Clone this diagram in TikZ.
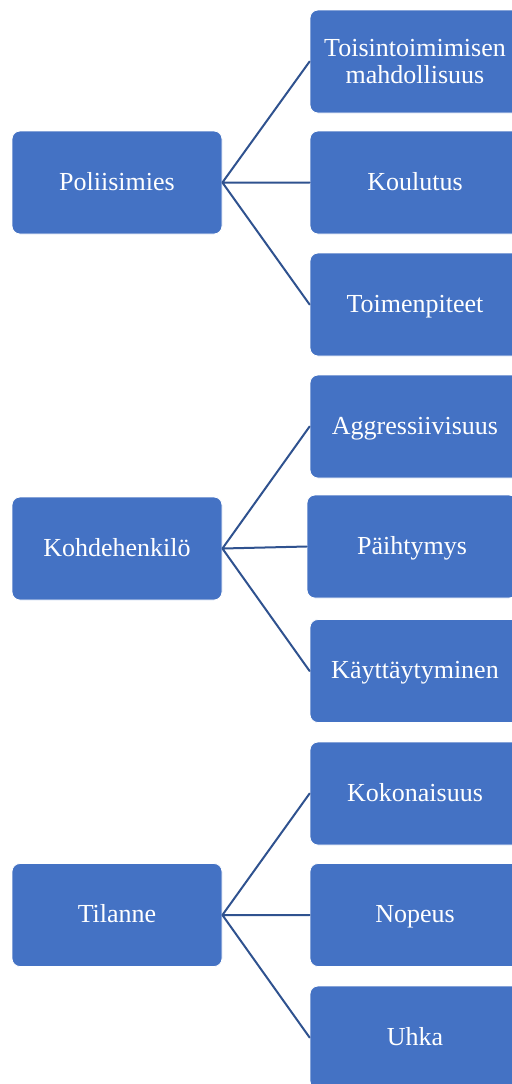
\documentclass[tikz,border=0pt]{standalone}
\usepackage{fontspec}
\setmainfont{Liberation Serif}
\definecolor{boxblue}{HTML}{4472C4}
\definecolor{linkblue}{HTML}{2F528F}
\begin{document}
\begin{tikzpicture}[x=0.5pt,y=-0.5pt,line join=round,line cap=round,
	box/.style={rectangle,rounded corners=4pt,fill=boxblue,draw=white,line width=0.4pt,
		minimum width=105pt,minimum height=51.5pt,inner sep=0pt,align=center,
		text=white,font=\fontsize{13}{13.5}\selectfont},
	onerow/.style={box,text height=0.891em,text depth=0.13em},
	link/.style={draw=linkblue,line width=1pt}]
\useasboundingbox (0,0) rectangle (511,1084);
% vasen sarake
\node[onerow] (poliisi) at (117,182.5) {Poliisimies};
\node[onerow] (kohde) at (117,548.5) {Kohdehenkilö};
\node[onerow] (tilanne) at (117,915) {Tilanne};
% oikea sarake
\node[box] (toisin) at (415,61.5) {Toisintoimimisen\\mahdollisuus};
\node[onerow] (koulutus) at (415,182.5) {Koulutus};
\node[onerow] (toimen) at (415,304.5) {Toimenpiteet};
\node[onerow] (aggr) at (415,426.5) {Aggressiivisuus};
\node[onerow] (paiht) at (412,546.5) {Päihtymys};
\node[onerow] (kaytt) at (415,671) {Käyttäytyminen};
\node[onerow] (kokon) at (415,793.5) {Kokonaisuus};
\node[onerow] (nopeus) at (415,915) {Nopeus};
\node[onerow] (uhka) at (415,1037.5) {Uhka};
% yhteydet
\draw[link] (toisin.west)--(poliisi.east)--(koulutus.west)
	(poliisi.east)--(toimen.west);
\draw[link] (aggr.west)--(kohde.east)--(paiht.west)
	(kohde.east)--(kaytt.west);
\draw[link] (kokon.west)--(tilanne.east)--(nopeus.west)
	(tilanne.east)--(uhka.west);
\end{tikzpicture}
\end{document}
